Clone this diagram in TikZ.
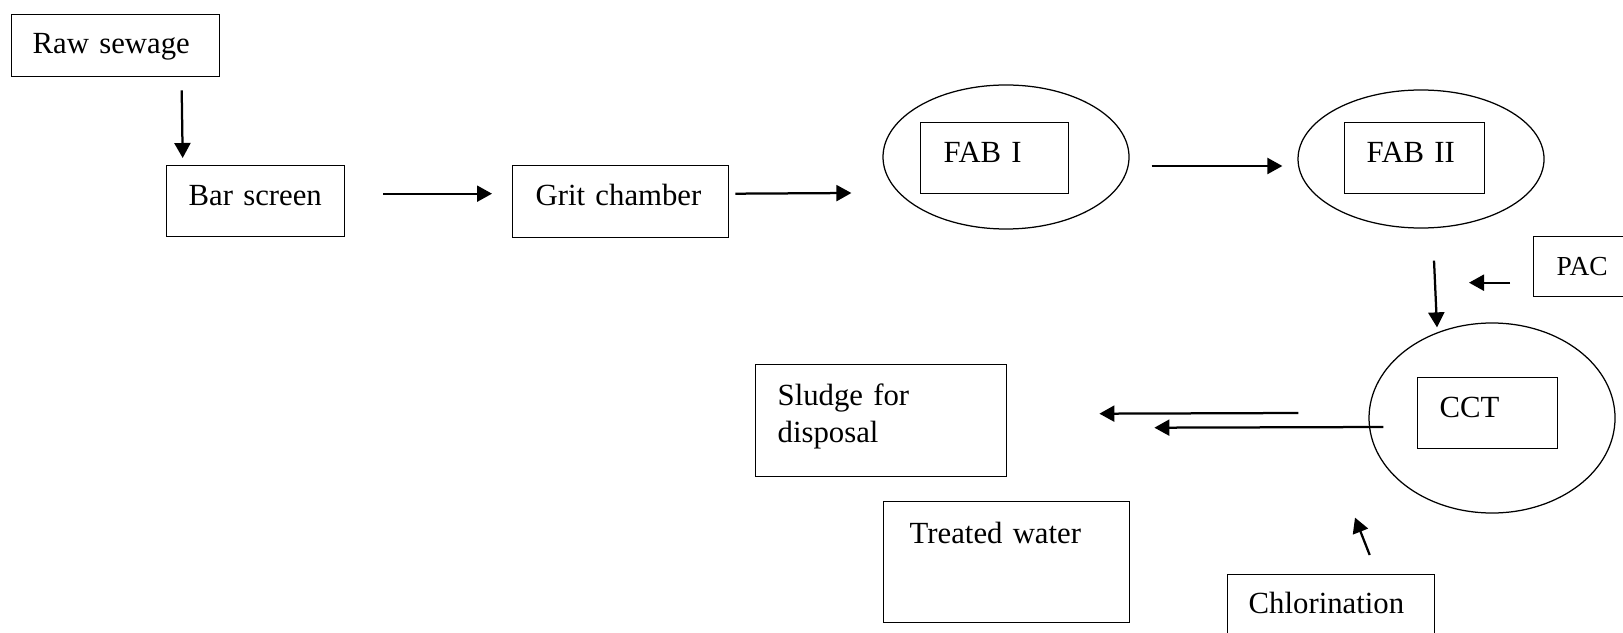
\documentclass[tikz,border=0pt]{standalone}
\usepackage{fontspec}
\setmainfont{Liberation Serif}
\usetikzlibrary{arrows.meta,shapes.geometric}
\tikzset{>={Triangle[length=6pt,width=6.4pt]}}

\begin{document}
\begin{tikzpicture}[x=0.4pt,y=-0.4pt,
    font=\fontsize{12.3pt}{14.8pt}\selectfont,
    unit/.style={draw,line width=0.55pt,anchor=north west,align=left,inner ysep=0pt},
    tank/.style={draw,ellipse,line width=0.5pt,inner sep=0pt},
    flow/.style={->,line width=0.9pt}]

  \useasboundingbox (0,0) rectangle (1623,632);
  \clip (0,0) rectangle (1623,632);

  % pre-treatment
  \node[unit,inner xsep=8.4pt,text width=66.4pt,text height=15.6pt,text depth=9.2pt] (raw) at (11,14) {Raw sewage};
  \node[unit,inner xsep=8.8pt,text width=53.6pt,text height=16pt,text depth=12.4pt] (bar) at (166,165) {Bar screen};
  \node[unit,inner xsep=9.2pt,text width=68pt,text height=16pt,text depth=12.8pt] (grit) at (512,165) {Grit chamber};

  % reactors
  \node[tank,minimum width=98.4pt,minimum height=57.6pt] (fab1) at (1006,157) {};
  \node[unit,inner xsep=9.2pt,text width=40.8pt,text height=16pt,text depth=12.4pt] (fab1box) at (920,122) {FAB I};
  \node[tank,minimum width=98.4pt,minimum height=55.2pt] (fab2) at (1421,159) {};
  \node[unit,inner xsep=8.8pt,text width=38.4pt,text height=16pt,text depth=12.4pt] (fab2box) at (1344,122) {FAB II};
  \node[tank,minimum width=98.4pt,minimum height=76pt] (cct) at (1492,418) {};
  \node[unit,inner xsep=8.8pt,text width=38.4pt,text height=16pt,text depth=12.4pt] (cctbox) at (1417,377) {CCT};

  % dosing and outputs
  \node[unit,font=\fontsize{11pt}{13pt}\selectfont,inner xsep=9.2pt,text width=33.6pt,text height=15.6pt,text depth=8.4pt] (pac) at (1533,236) {PAC};
  \node[unit,inner xsep=8.8pt,text width=82.8pt,text height=16.4pt,text depth=28.4pt] (sludge) at (755,364) {Sludge for\\disposal};
  \node[unit,inner xsep=10.4pt,text width=77.6pt,text height=16.8pt,text depth=31.6pt] (treated) at (883,501) {Treated water};
  \node[unit,inner xsep=8.4pt,text width=66pt,text height=15.6pt,text depth=24.4pt] (chlor) at (1227,574) {Chlorination};

  \draw[flow] ([shift={(66,13)}]raw.south) -- ([shift={(-73,-7)}]bar.north); % raw -> bar
  \draw[flow] ([shift={(38,-7.5)}]bar.east) -- ([shift={(-20,-8)}]grit.west); % bar -> grit
  \draw[flow] ([shift={(6,-8)}]grit.east) -- ([shift={(-31,36)}]fab1.west); % grit -> FAB I
  \draw[flow] ([shift={(22,9)}]fab1.east) -- ([shift={(-15,7)}]fab2.west); % FAB I -> FAB II
  \draw[flow] ([shift={(13,32)}]fab2.south) -- ([shift={(-55,5)}]cct.north); % FAB II -> CCT
  \draw[flow] ([shift={(-23,16)}]pac.west) -- ([shift={(-64,16)}]pac.west); % PAC dosing
  \draw[flow] ([shift={(-70,-5)}]cct.west) -- ([shift={(92,-7)}]sludge.east); % CCT -> sludge
  \draw[flow] ([shift={(15,9)}]cct.west) -- ([shift={(147,7)}]sludge.east);
  \draw[flow] ([shift={(38.5,-19)}]chlor.north) -- ([shift={(-137,4)}]cct.south); % chlorination -> CCT

\end{tikzpicture}
\end{document}
